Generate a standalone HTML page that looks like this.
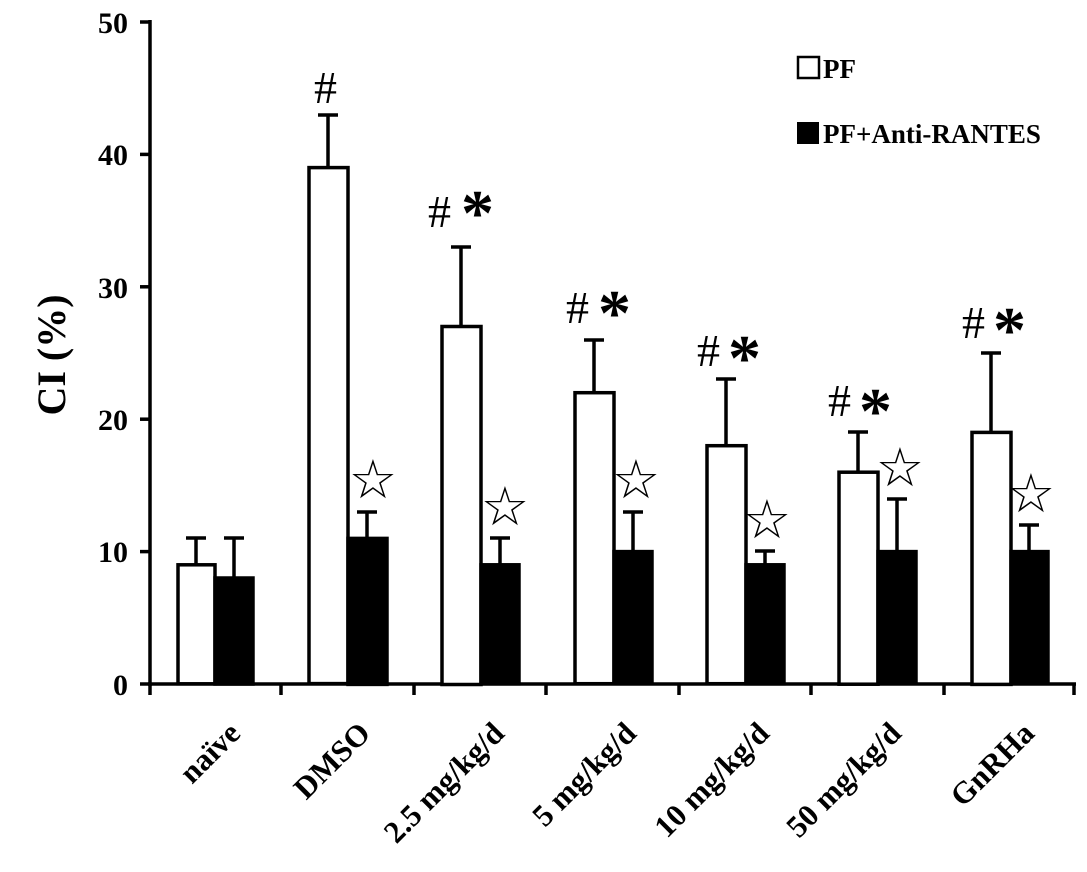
<!DOCTYPE html>
<html><head><style>body{margin:0;background:#fff}</style></head><body>
<svg width="1087" height="867" xmlns="http://www.w3.org/2000/svg" font-family="Liberation Serif, serif">
<rect width="1087" height="867" fill="#fff"/>
<g stroke="#000" stroke-width="3.5" fill="none">
<line x1="150" y1="20" x2="150" y2="686"/>
<line x1="148" y1="684" x2="1076" y2="684"/>
<line x1="140" y1="22" x2="150" y2="22"/>
<line x1="140" y1="154.4" x2="150" y2="154.4"/>
<line x1="140" y1="286.8" x2="150" y2="286.8"/>
<line x1="140" y1="419.2" x2="150" y2="419.2"/>
<line x1="140" y1="551.6" x2="150" y2="551.6"/>
<line x1="140" y1="684" x2="150" y2="684"/>
<line x1="150" y1="684" x2="150" y2="695"/>
<line x1="281" y1="684" x2="281" y2="695"/>
<line x1="414" y1="684" x2="414" y2="695"/>
<line x1="546" y1="684" x2="546" y2="695"/>
<line x1="679" y1="684" x2="679" y2="695"/>
<line x1="811" y1="684" x2="811" y2="695"/>
<line x1="944" y1="684" x2="944" y2="695"/>
<line x1="1074" y1="684" x2="1074" y2="695"/>
</g>
<g font-weight="bold" font-size="30" text-anchor="end">
<text x="128" y="33">50</text><text x="128" y="165">40</text><text x="128" y="298">30</text>
<text x="128" y="430">20</text><text x="128" y="562">10</text><text x="128" y="695">0</text>
</g>
<text transform="translate(65,355) rotate(-90)" text-anchor="middle" font-weight="bold" font-size="40">CI (%)</text>
<g stroke="#000" stroke-width="3.5">
<line x1="196" y1="564" x2="196" y2="538"/><line x1="186" y1="538" x2="206" y2="538"/>
<line x1="234" y1="577" x2="234" y2="538"/><line x1="224" y1="538" x2="244" y2="538"/>
<rect x="178" y="564.8" width="37" height="119" fill="#fff"/>
<rect x="215" y="578" width="38" height="106" fill="#000"/>

<line x1="328" y1="168" x2="328" y2="115"/><line x1="318" y1="115" x2="338" y2="115"/>
<line x1="367" y1="538" x2="367" y2="512"/><line x1="357" y1="512" x2="377" y2="512"/>
<rect x="309" y="167.6" width="39" height="516" fill="#fff"/>
<rect x="348" y="538.4" width="39" height="146" fill="#000"/>

<line x1="461" y1="327" x2="461" y2="247"/><line x1="451" y1="247" x2="471" y2="247"/>
<line x1="500" y1="565" x2="500" y2="538"/><line x1="490" y1="538" x2="510" y2="538"/>
<rect x="442" y="326.5" width="39" height="358" fill="#fff"/>
<rect x="481" y="564.8" width="38" height="119" fill="#000"/>

<line x1="594" y1="393" x2="594" y2="340"/><line x1="584" y1="340" x2="604" y2="340"/>
<line x1="633" y1="551" x2="633" y2="512"/><line x1="623" y1="512" x2="643" y2="512"/>
<rect x="575" y="392.7" width="39" height="291" fill="#fff"/>
<rect x="614" y="551.6" width="38" height="132" fill="#000"/>

<line x1="726" y1="446" x2="726" y2="379"/><line x1="716" y1="379" x2="736" y2="379"/>
<line x1="765" y1="565" x2="765" y2="551"/><line x1="755" y1="551" x2="775" y2="551"/>
<rect x="707" y="445.7" width="39" height="238" fill="#fff"/>
<rect x="746" y="564.8" width="38" height="119" fill="#000"/>

<line x1="858" y1="472" x2="858" y2="432"/><line x1="848" y1="432" x2="868" y2="432"/>
<line x1="897" y1="551" x2="897" y2="499"/><line x1="887" y1="499" x2="907" y2="499"/>
<rect x="839" y="472.2" width="39" height="212" fill="#fff"/>
<rect x="878" y="551.6" width="38" height="132" fill="#000"/>

<line x1="991" y1="433" x2="991" y2="353"/><line x1="981" y1="353" x2="1001" y2="353"/>
<line x1="1029" y1="551" x2="1029" y2="525"/><line x1="1019" y1="525" x2="1039" y2="525"/>
<rect x="972" y="432.4" width="39" height="252" fill="#fff"/>
<rect x="1011" y="551.6" width="37" height="132" fill="#000"/>
</g>
<g font-size="46">
<text x="314" y="103">#</text>
<text x="428" y="227">#</text><text x="461" y="235" font-size="66" font-weight="bold">*</text>
<text x="566" y="323">#</text><text x="598" y="335" font-size="66" font-weight="bold">*</text>
<text x="697" y="366">#</text><text x="728" y="380" font-size="66" font-weight="bold">*</text>
<text x="828" y="416">#</text><text x="859" y="433" font-size="66" font-weight="bold">*</text>
<text x="962" y="338">#</text><text x="993" y="352" font-size="66" font-weight="bold">*</text>
</g>
<g font-size="54" font-family="DejaVu Sans, sans-serif" text-anchor="middle">
<text x="373" y="498">☆</text>
<text x="505" y="525">☆</text>
<text x="636" y="498">☆</text>
<text x="767" y="538">☆</text>
<text x="900" y="486">☆</text>
<text x="1031" y="512">☆</text>
</g>
<rect x="798" y="57" width="21" height="21" fill="#fff" stroke="#000" stroke-width="2.5"/>
<text x="823" y="78" font-weight="bold" font-size="27">PF</text>
<rect x="797" y="122" width="22" height="22" fill="#000"/>
<text x="823" y="143" font-weight="bold" font-size="27">PF+Anti-RANTES</text>
<g font-weight="bold" font-size="31" text-anchor="end">
<text transform="translate(242,735) rotate(-45)">naïve</text>
<text transform="translate(372,735) rotate(-45)">DMSO</text>
<text transform="translate(506,735) rotate(-45)">2.5 mg/kg/d</text>
<text transform="translate(638,735) rotate(-45)">5 mg/kg/d</text>
<text transform="translate(771,735) rotate(-45)">10 mg/kg/d</text>
<text transform="translate(903,735) rotate(-45)">50 mg/kg/d</text>
<text transform="translate(1036,735) rotate(-45)">GnRHa</text>
</g>
</svg>
</body></html>
